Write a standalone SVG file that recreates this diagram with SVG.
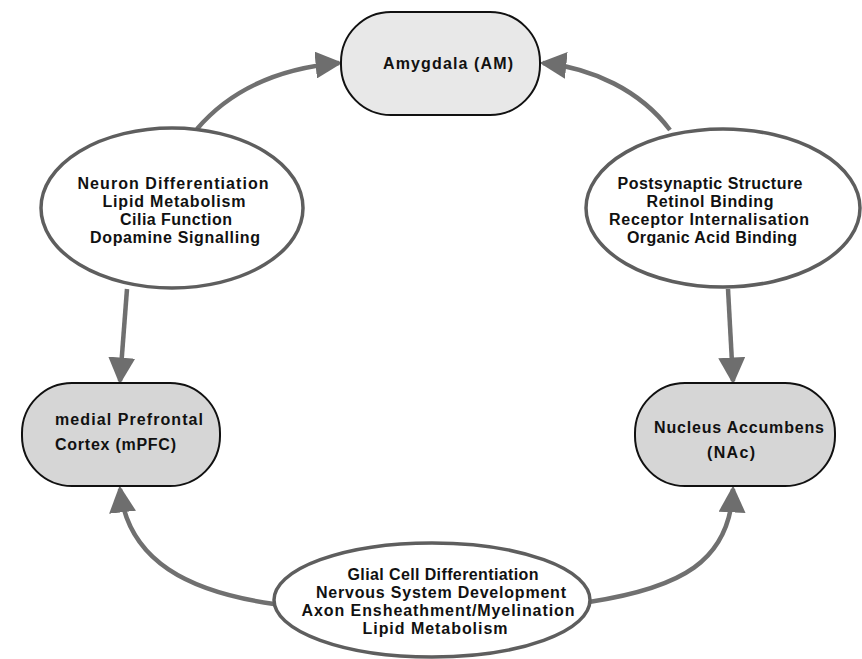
<svg xmlns="http://www.w3.org/2000/svg" width="862" height="659" viewBox="0 0 862 659">
<style>
.t{font-family:"Liberation Sans",Arial,sans-serif;font-weight:bold;font-size:16px;fill:#111;}
.c{text-anchor:middle;}
.box{stroke:#111;stroke-width:2;}
.ell{fill:#fff;stroke:#5e5e5e;stroke-width:3.5;}
.con{fill:none;stroke:#707070;stroke-width:4.5;}
</style>
<defs>
<marker id="ah" markerWidth="6" markerHeight="6" refX="5.2" refY="3" orient="auto" markerUnits="strokeWidth">
<path d="M0,0 L6,3 L0,6 Z" fill="#6e6e6e"/>
</marker>
</defs>
<rect width="862" height="659" fill="#fff"/>
<g id="connectors">
<path class="con" marker-end="url(#ah)" d="M197,129 C232,88 282,68 339,63"/>
<path class="con" marker-end="url(#ah)" d="M670,130 C640,90 592,68 543,63"/>
<path class="con" marker-end="url(#ah)" d="M127,289 L120,381"/>
<path class="con" marker-end="url(#ah)" d="M728,289 L733,381"/>
<path class="con" marker-end="url(#ah)" d="M274,604 C190,592 128,562 120,489"/>
<path class="con" marker-end="url(#ah)" d="M589,602 C680,588 730,562 733,489"/>
</g>
<g id="amygdala">
<rect class="box" x="341" y="12" width="199" height="103" rx="50" fill="#e8e8e8"/>
<text class="t c" x="448" y="69" textLength="130" lengthAdjust="spacing">Amygdala (AM)</text>
</g>
<g id="mpfc">
<rect class="box" x="22" y="383" width="198" height="103" rx="50" fill="#d6d6d6"/>
<text class="t" x="55" y="425" textLength="148" lengthAdjust="spacing">medial Prefrontal</text>
<text class="t" x="55" y="450" textLength="121" lengthAdjust="spacing">Cortex (mPFC)</text>
</g>
<g id="nac">
<rect class="box" x="635" y="383" width="200" height="103" rx="50" fill="#d6d6d6"/>
<text class="t c" x="739" y="433" textLength="170" lengthAdjust="spacing">Nucleus Accumbens</text>
<text class="t c" x="731" y="458" textLength="48" lengthAdjust="spacing">(NAc)</text>
</g>
<g id="left-terms">
<ellipse class="ell" cx="172" cy="208" rx="131" ry="80"/>
<text class="t c" x="173" y="189" textLength="191" lengthAdjust="spacing">Neuron Differentiation</text>
<text class="t c" x="174" y="207" textLength="143" lengthAdjust="spacing">Lipid Metabolism</text>
<text class="t c" x="176" y="225" textLength="112" lengthAdjust="spacing">Cilia Function</text>
<text class="t c" x="175" y="243" textLength="170" lengthAdjust="spacing">Dopamine Signalling</text>
</g>
<g id="right-terms">
<ellipse class="ell" cx="723" cy="208" rx="137" ry="79"/>
<text class="t c" x="710" y="189" textLength="185" lengthAdjust="spacing">Postsynaptic Structure</text>
<text class="t c" x="710" y="207" textLength="127" lengthAdjust="spacing">Retinol Binding</text>
<text class="t c" x="709" y="225" textLength="200" lengthAdjust="spacing">Receptor Internalisation</text>
<text class="t c" x="712" y="243" textLength="170" lengthAdjust="spacing">Organic Acid Binding</text>
</g>
<g id="bottom-terms">
<ellipse class="ell" cx="432" cy="600" rx="158" ry="57"/>
<text class="t c" x="443" y="580" textLength="191" lengthAdjust="spacing">Glial Cell Differentiation</text>
<text class="t c" x="441" y="598" textLength="250" lengthAdjust="spacing">Nervous System Development</text>
<text class="t c" x="438" y="616" textLength="273" lengthAdjust="spacing">Axon Ensheathment/Myelination</text>
<text class="t c" x="435" y="634" textLength="145" lengthAdjust="spacing">Lipid Metabolism</text>
</g>
</svg>
